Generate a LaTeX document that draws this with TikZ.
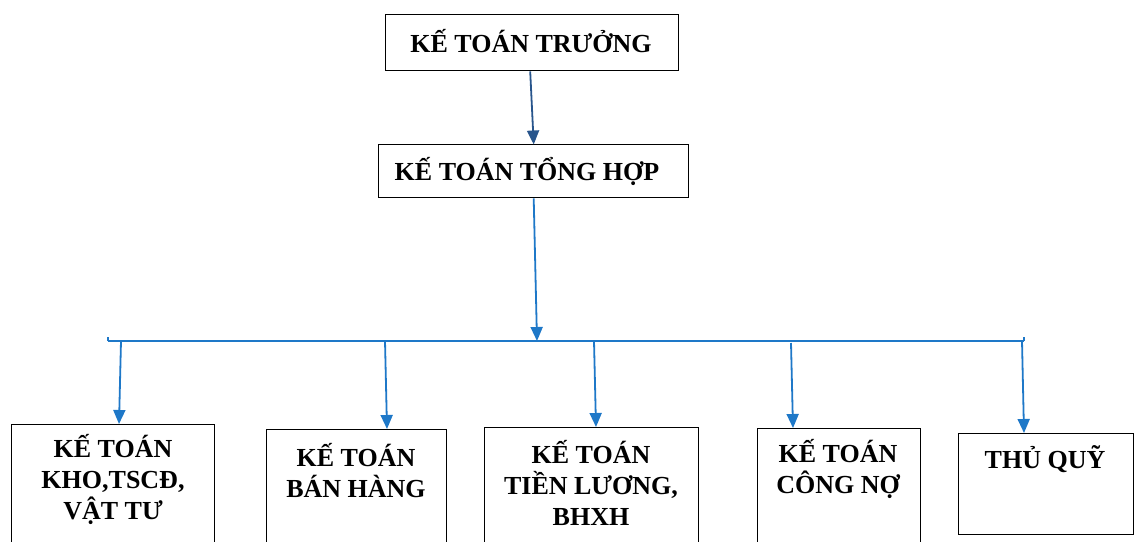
\documentclass[tikz,border=0pt]{standalone}
\usepackage{fontspec}
\setmainfont{Liberation Serif}
\usetikzlibrary{arrows.meta}
\definecolor{darkarrow}{RGB}{40,85,140}
\definecolor{bluearrow}{RGB}{30,120,200}
\begin{document}
\begin{tikzpicture}[x=1pt,y=-1pt,
  boxst/.style={draw=black,line width=1.4pt,inner sep=0pt,anchor=north west},
  txt/.style={font=\fontsize{26}{31}\selectfont\bfseries,align=center,inner sep=0pt},
  conn/.style={draw=bluearrow,line width=1.8pt},
  arr/.style={conn,-{Triangle[width=12pt,length=14pt]}}]
\useasboundingbox (0,0) rectangle (1137,541);
% top boxes
\node[boxst,minimum width=293pt,minimum height=56pt] (kt) at (385,14) {};
\node[txt] (ktt) at (531,41) {KẾ TOÁN TRƯỞNG};
\node[boxst,minimum width=310pt,minimum height=53pt] (th) at (378,144) {};
\node[txt] (tht) at (527,171) {KẾ TOÁN TỔNG HỢP};
% bottom boxes
\node[boxst,minimum width=203pt,minimum height=130pt] (b1) at (11,424) {};
\node[txt] (b1t) at (113,479) {KẾ TOÁN\\KHO,TSCĐ,\\VẬT TƯ};
\node[boxst,minimum width=180pt,minimum height=125pt] (b2) at (266,429) {};
\node[txt] (b2t) at (356,471) {KẾ TOÁN\\BÁN HÀNG};
\node[boxst,minimum width=214pt,minimum height=127pt] (b3) at (484,427) {};
\node[txt] (b3t) at (591,483) {KẾ TOÁN\\TIỀN LƯƠNG,\\BHXH};
\node[boxst,minimum width=163pt,minimum height=126pt] (b4) at (757,428) {};
\node[txt] (b4t) at (838,469) {KẾ TOÁN\\CÔNG NỢ};
\node[boxst,minimum width=175pt,minimum height=101pt] (b5) at (958,433) {};
\node[txt] (b5t) at (1045,459) {THỦ QUỸ};
% bus coordinates
\coordinate (busL) at (108,341);
\coordinate (busR) at (1024,341);
\coordinate (busM) at (537,341);
\coordinate (s1) at (121,341);
\coordinate (s2) at (385,341);
\coordinate (s3) at (594,341);
\coordinate (s4) at (791,343);
\coordinate (s5) at (1022,341);
% connectors
\draw[draw=darkarrow,line width=1.8pt,-{Triangle[width=12pt,length=14pt]},shorten >=-0.5pt] ([xshift=-2pt]kt.south) -- (th.north);
\draw[arr] (th.south) -- (busM);
\draw[conn] (busL) -- (busR);
\draw[conn,line width=1.2pt] (busL) -- ++(0,-4);
\draw[conn,line width=1.2pt] (busR) -- ++(0,-4);
\draw[arr] (s1) -- (b1.north -| 119,0);
\draw[arr] (s2) -- (b2.north -| 387,0);
\draw[arr] (s3) -- (b3.north -| 596,0);
\draw[arr] (s4) -- (b4.north -| 793,0);
\draw[arr] (s5) -- (b5.north -| 1024,0);
\end{tikzpicture}
\end{document}
